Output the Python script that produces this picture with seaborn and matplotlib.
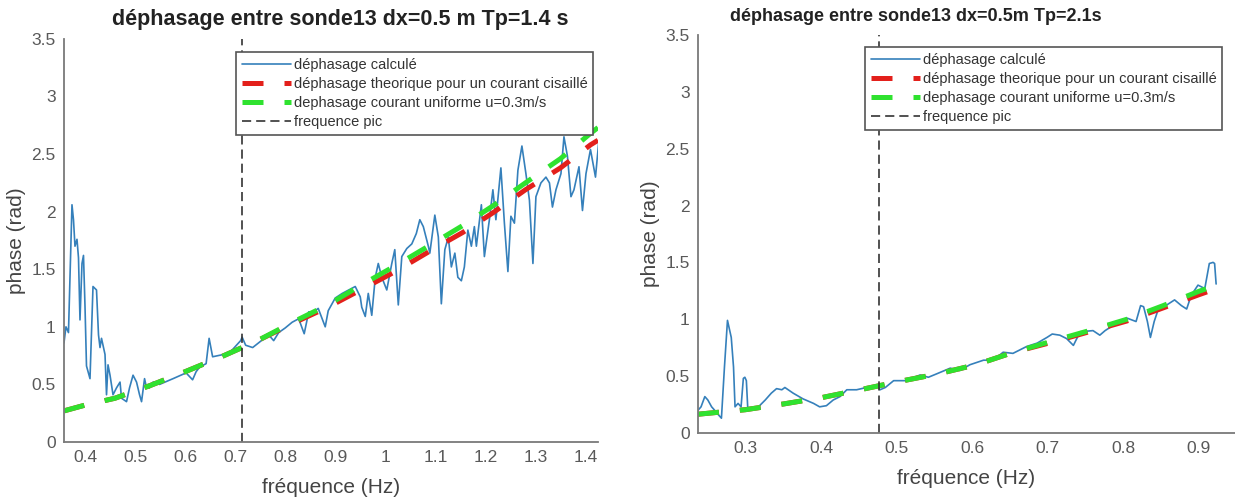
import matplotlib

matplotlib.use("Agg")
import matplotlib.pyplot as plt
import pandas as pd
import seaborn as sns
from matplotlib.ticker import FuncFormatter


# left panel: Tp = 1.4 s
LEFT_TITLE = "déphasage entre sonde13 dx=0.5 m Tp=1.4 s"
LEFT_FREQ = [
    0.358, 0.362, 0.367, 0.374, 0.377, 0.380, 0.384, 0.387, 0.390, 0.394,
    0.397, 0.400, 0.403, 0.410, 0.416, 0.423, 0.427, 0.430, 0.433, 0.440,
    0.443, 0.446, 0.450, 0.456, 0.463, 0.470, 0.473, 0.483, 0.489, 0.496,
    0.503, 0.509, 0.513, 0.519, 0.522, 0.529, 0.536, 0.549, 0.576, 0.602,
    0.615, 0.622, 0.629, 0.642, 0.648, 0.655, 0.688, 0.711, 0.714, 0.721,
    0.735, 0.767, 0.777, 0.787, 0.800, 0.814, 0.827, 0.838, 0.847, 0.857,
    0.866, 0.880, 0.886, 0.900, 0.914, 0.927, 0.940, 0.950, 0.953, 0.960,
    0.966, 0.973, 0.980, 0.986, 0.993, 1.003, 1.013, 1.019, 1.026, 1.033,
    1.043, 1.053, 1.062, 1.069, 1.076, 1.086, 1.089, 1.099, 1.106, 1.112,
    1.119, 1.126, 1.132, 1.139, 1.145, 1.152, 1.158, 1.165, 1.172, 1.178,
    1.182, 1.192, 1.198, 1.208, 1.215, 1.221, 1.231, 1.238, 1.245, 1.251,
    1.258, 1.265, 1.273, 1.281, 1.288, 1.295, 1.301, 1.311, 1.321, 1.328,
    1.334, 1.341, 1.351, 1.357, 1.364, 1.371, 1.377, 1.387, 1.394, 1.401,
    1.410, 1.420, 1.430,
]
LEFT_PHASE = [
    0.86, 1.00, 0.95, 2.06, 1.93, 1.70, 1.76, 1.60, 1.06, 1.55,
    1.62, 1.18, 0.66, 0.55, 1.35, 1.32, 0.93, 0.82, 0.90, 0.76,
    0.41, 0.67, 0.58, 0.41, 0.47, 0.52, 0.38, 0.35, 0.47, 0.58,
    0.52, 0.41, 0.35, 0.55, 0.49, 0.47, 0.52, 0.50, 0.55, 0.60,
    0.54, 0.61, 0.65, 0.68, 0.90, 0.74, 0.77, 0.88, 0.91, 0.84,
    0.82, 0.93, 0.88, 0.95, 0.99, 1.04, 1.07, 0.94, 1.13, 1.13,
    1.16, 1.00, 1.14, 1.25, 1.29, 1.32, 1.35, 1.26, 1.17, 1.09,
    1.29, 1.10, 1.43, 1.55, 1.43, 1.32, 1.55, 1.67, 1.19, 1.61,
    1.68, 1.72, 1.81, 1.93, 1.87, 1.70, 1.64, 1.97, 1.78, 1.20,
    1.67, 1.78, 1.52, 1.64, 1.43, 1.40, 1.52, 1.84, 1.70, 1.87,
    1.70, 2.06, 1.61, 1.93, 2.19, 1.93, 2.38, 1.90, 1.48, 1.96,
    1.90, 2.36, 2.57, 2.33, 2.10, 1.55, 2.13, 2.25, 2.30, 2.25,
    2.04, 2.19, 2.33, 2.65, 2.48, 2.13, 2.19, 2.39, 2.01, 2.33,
    2.54, 2.30, 2.77,
]
LEFT_THEO_FREQ = [
    0.358, 0.40, 0.46, 0.53, 0.60, 0.675, 0.745, 0.815, 0.885, 0.955,
    1.02, 1.09, 1.155, 1.215, 1.28, 1.35, 1.41, 1.425,
]
LEFT_UNIFORM = [
    0.27, 0.32, 0.38, 0.49, 0.61, 0.745, 0.88, 1.04, 1.19, 1.37,
    1.53, 1.71, 1.88, 2.05, 2.25, 2.46, 2.68, 2.73,
]
LEFT_SHEAR = [
    0.27, 0.32, 0.38, 0.49, 0.61, 0.745, 0.88, 1.03, 1.17, 1.33,
    1.48, 1.66, 1.82, 1.99, 2.19, 2.38, 2.58, 2.62,
]
LEFT_PEAK = 1 / 1.4
LEFT_XTICKS = [0.4, 0.5, 0.6, 0.7, 0.8, 0.9, 1.0, 1.1, 1.2, 1.3, 1.4]

# right panel: Tp = 2.1 s
RIGHT_TITLE = "déphasage entre sonde13 dx=0.5m Tp=2.1s"
RIGHT_FREQ = [
    0.237, 0.241, 0.246, 0.250, 0.255, 0.259, 0.264, 0.268, 0.272, 0.276,
    0.278, 0.281, 0.284, 0.286, 0.290, 0.294, 0.297, 0.299, 0.301, 0.303,
    0.308, 0.317, 0.326, 0.334, 0.341, 0.348, 0.352, 0.363, 0.376, 0.390,
    0.398, 0.407, 0.416, 0.425, 0.434, 0.447, 0.460, 0.474, 0.478, 0.485,
    0.496, 0.513, 0.531, 0.542, 0.553, 0.571, 0.584, 0.597, 0.615, 0.628,
    0.641, 0.654, 0.672, 0.686, 0.699, 0.706, 0.716, 0.725, 0.734, 0.743,
    0.760, 0.769, 0.776, 0.783, 0.792, 0.805, 0.817, 0.823, 0.827, 0.832,
    0.836, 0.841, 0.846, 0.854, 0.868, 0.877, 0.884, 0.890, 0.899, 0.908,
    0.914, 0.919, 0.921, 0.923,
]
RIGHT_PHASE = [
    0.20, 0.23, 0.32, 0.29, 0.23, 0.20, 0.16, 0.13, 0.58, 0.99,
    0.93, 0.84, 0.58, 0.23, 0.26, 0.23, 0.48, 0.49, 0.46, 0.20,
    0.21, 0.23, 0.29, 0.35, 0.39, 0.38, 0.40, 0.35, 0.30, 0.26,
    0.23, 0.24, 0.29, 0.32, 0.38, 0.38, 0.40, 0.42, 0.38, 0.40,
    0.46, 0.46, 0.51, 0.49, 0.52, 0.57, 0.55, 0.60, 0.64, 0.64,
    0.71, 0.70, 0.76, 0.79, 0.84, 0.87, 0.86, 0.83, 0.77, 0.89,
    0.90, 0.86, 0.90, 0.93, 0.98, 1.01, 0.98, 1.12, 1.11, 0.98,
    0.84, 0.98, 1.08, 1.11, 1.17, 1.12, 1.09, 1.21, 1.30, 1.27,
    1.49, 1.50, 1.49, 1.31,
]
RIGHT_THEO_FREQ = [
    0.237, 0.30, 0.35, 0.40, 0.455, 0.505, 0.555, 0.605, 0.655, 0.707,
    0.755, 0.805, 0.853, 0.900, 0.915,
]
RIGHT_UNIFORM = [
    0.165, 0.205, 0.255, 0.31, 0.385, 0.455, 0.52, 0.60, 0.71, 0.81,
    0.90, 1.00, 1.12, 1.245, 1.28,
]
RIGHT_SHEAR = [
    0.165, 0.205, 0.255, 0.31, 0.385, 0.455, 0.52, 0.60, 0.71, 0.80,
    0.89, 0.985, 1.10, 1.215, 1.25,
]
RIGHT_PEAK = 1 / 2.1
RIGHT_XTICKS = [0.3, 0.4, 0.5, 0.6, 0.7, 0.8, 0.9]

YTICKS = [0, 0.5, 1, 1.5, 2, 2.5, 3, 3.5]

LABELS = [
    "déphasage calculé",
    "déphasage theorique pour un courant cisaillé",
    "dephasage courant uniforme u=0.3m/s",
    "frequence pic",
]
COLORS = {"calc": "#3580bb", "shear": "#e3201b", "uniform": "#2fe22f", "peak": "#333333"}
AXIS_GREY = "#7a7a7a"


def draw_panel(ax, freq, phase, theo_freq, shear, uniform, peak, xlim, xticks,
               title, title_size, title_x, legend_anchor):
    calc = pd.DataFrame({"f": freq, "phase": phase})
    theo = pd.DataFrame({"f": theo_freq, "shear": shear, "uniform": uniform})

    sns.lineplot(data=calc, x="f", y="phase", ax=ax, color=COLORS["calc"],
                 linewidth=1.2, estimator=None, sort=False, label=LABELS[0])
    sns.lineplot(data=theo, x="f", y="shear", ax=ax, color=COLORS["shear"],
                 linewidth=3.6, linestyle=(0, (4.2, 4.2)), estimator=None,
                 label=LABELS[1])
    sns.lineplot(data=theo, x="f", y="uniform", ax=ax, color=COLORS["uniform"],
                 linewidth=3.6, linestyle=(0, (4.2, 4.2)), estimator=None,
                 label=LABELS[2])
    ax.axvline(peak, color=COLORS["peak"], linewidth=1.2,
               linestyle=(0, (5.5, 3)), label=LABELS[3])

    ax.set_xlim(*xlim)
    ax.set_ylim(0, 3.5)
    ax.set_xticks(xticks)
    ax.set_yticks(YTICKS)
    fmt = FuncFormatter(lambda v, _: f"{v:g}")
    ax.xaxis.set_major_formatter(fmt)
    ax.yaxis.set_major_formatter(fmt)
    ax.tick_params(direction="in", length=4, width=1, color=AXIS_GREY,
                   labelcolor="#595959", labelsize=12.5, pad=6)
    for side in ["top", "right"]:
        ax.spines[side].set_visible(False)
    for side in ["left", "bottom"]:
        ax.spines[side].set_color(AXIS_GREY)
        ax.spines[side].set_linewidth(1.3)

    ax.set_xlabel("fréquence (Hz)", fontsize=15, color="#444444", labelpad=9)
    ax.set_ylabel("phase (rad)", fontsize=15, color="#444444", labelpad=4)
    ax.set_title(title, fontsize=title_size, fontweight="bold", color="#222222",
                 pad=10, x=title_x)

    leg = ax.legend(loc="upper right", bbox_to_anchor=legend_anchor,
                    borderaxespad=0, fontsize=10.5, handlelength=3.4,
                    handletextpad=0.15, labelspacing=0.35, borderpad=0.4,
                    fancybox=False, framealpha=1, edgecolor="#555555")
    leg.get_frame().set_linewidth(1.2)
    for text in leg.get_texts():
        text.set_color("#333333")


def main():
    sns.set_theme(style="white")
    plt.rcParams["font.family"] = ["Liberation Sans", "DejaVu Sans"]

    fig = plt.figure(figsize=(12.35, 4.97), dpi=100)
    ax_left = fig.add_axes([0.0518, 0.1107, 0.4324, 0.811])
    ax_right = fig.add_axes([0.5652, 0.1288, 0.4348, 0.801])

    draw_panel(ax_left, LEFT_FREQ, LEFT_PHASE, LEFT_THEO_FREQ, LEFT_SHEAR,
               LEFT_UNIFORM, LEFT_PEAK, (0.358, 1.425), LEFT_XTICKS,
               LEFT_TITLE, 15.5, 0.517, (0.991, 0.968))
    draw_panel(ax_right, RIGHT_FREQ, RIGHT_PHASE, RIGHT_THEO_FREQ, RIGHT_SHEAR,
               RIGHT_UNIFORM, RIGHT_PEAK, (0.237, 0.948), RIGHT_XTICKS,
               RIGHT_TITLE, 13, 0.406, (0.976, 0.97))

    fig.savefig("out.png", dpi=100)


if __name__ == "__main__":
    main()
